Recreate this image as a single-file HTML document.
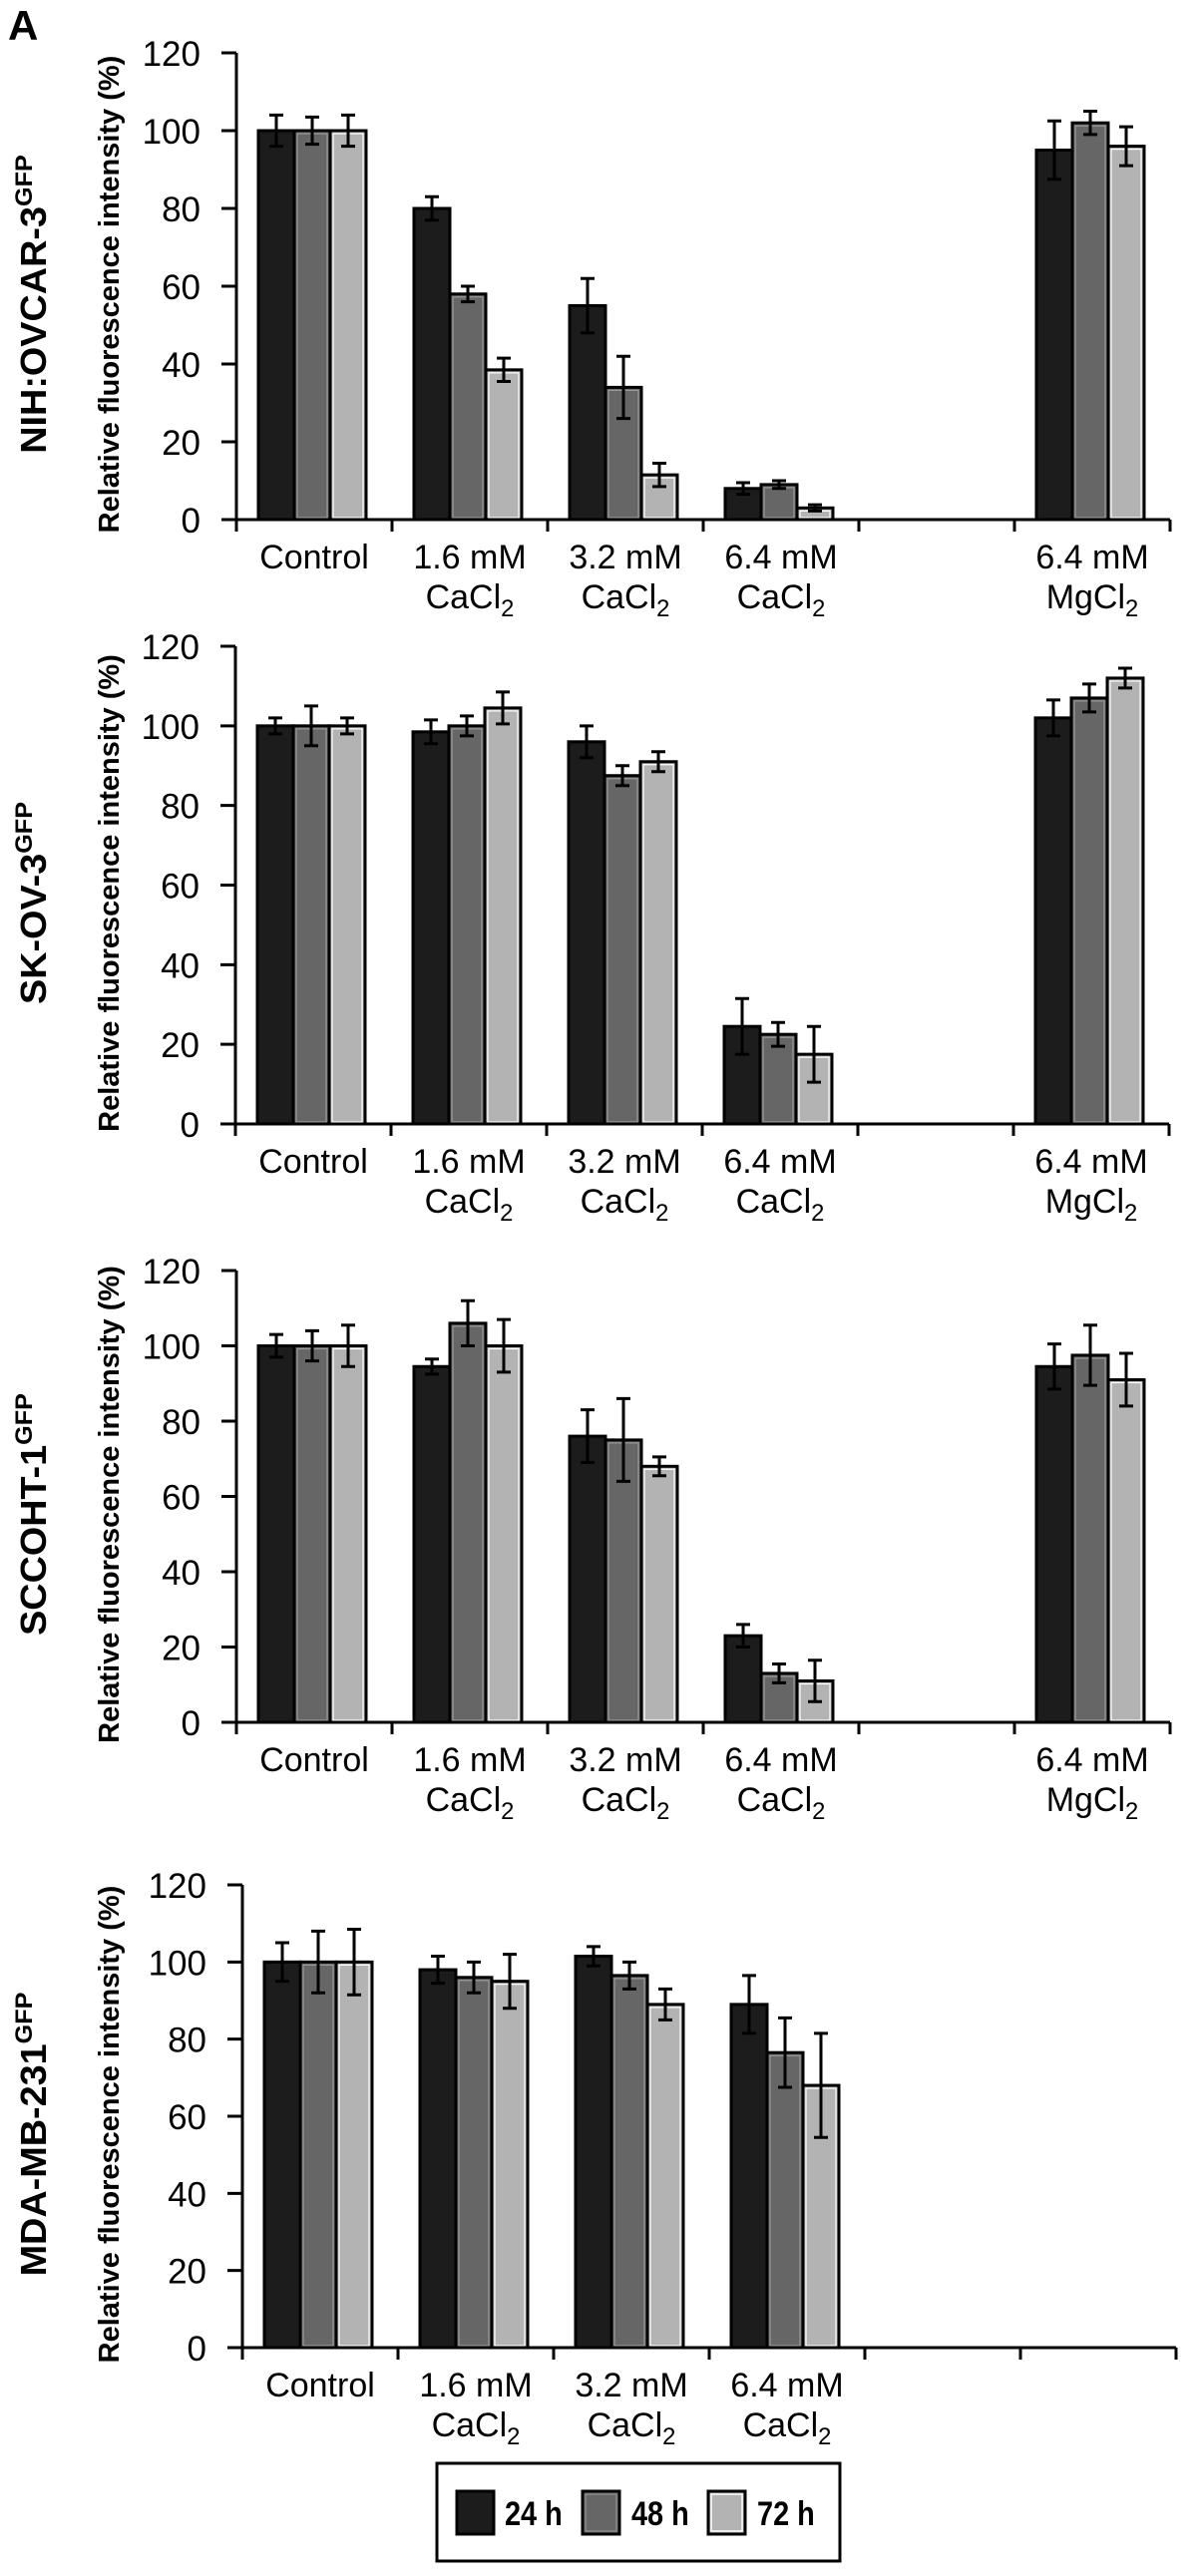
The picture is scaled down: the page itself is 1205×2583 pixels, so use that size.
<!DOCTYPE html>
<html><head><meta charset="utf-8"><style>
html,body{margin:0;padding:0;background:#fff;}
svg{display:block;}
text{font-family:"Liberation Sans",Arial,sans-serif;}
</style></head>
<body>
<svg id="fig" width="1205" height="2583" viewBox="0 0 1205 2583" xmlns="http://www.w3.org/2000/svg">
<text x="8" y="40" font-size="42" font-weight="bold">A</text>
<g id="legend">
<rect x="438" y="2470" width="404" height="98" fill="#fff" stroke="#000" stroke-width="3"/>
<rect x="458" y="2498" width="37" height="43" fill="#1c1c1c" stroke="#000" stroke-width="3"/>
<text x="506" y="2532" font-size="34" font-weight="bold" transform="translate(506 2532) scale(0.85 1) translate(-506 -2532)">24 h</text>
<rect x="584" y="2498" width="37" height="43" fill="#666" stroke="#000" stroke-width="3"/>
<rect x="587" y="2501" width="31" height="37" fill="none" stroke="#999" stroke-width="1"/>
<text x="633" y="2532" font-size="34" font-weight="bold" transform="translate(633 2532) scale(0.85 1) translate(-633 -2532)">48 h</text>
<rect x="710" y="2498" width="37" height="43" fill="#b3b3b3" stroke="#000" stroke-width="3"/>
<rect x="713" y="2501" width="31" height="37" fill="none" stroke="#fff" stroke-width="1.5"/>
<text x="759" y="2532" font-size="34" font-weight="bold" transform="translate(759 2532) scale(0.85 1) translate(-759 -2532)">72 h</text>
</g>
</svg>
<script>
// ---- data ----
const categories = ["Control", "1.6 mM|CaCl2", "3.2 mM|CaCl2", "6.4 mM|CaCl2", "", "6.4 mM|MgCl2"];
const seriesNames = ["24 h", "48 h", "72 h"];
const yTicks = [0, 20, 40, 60, 80, 100, 120];
const cellLines = ["NIH:OVCAR-3", "SK-OV-3", "SCCOHT-1", "MDA-MB-231"];
// NIH:OVCAR-3
const ovcar24 = [100, 80, 55, 8, null, 95];
const ovcar48 = [100, 58, 34, 9, null, 102];
const ovcar72 = [100, 38.5, 11.5, 3, null, 96];
const ovcarErr24 = [4, 3, 7, 1.5, null, 7.5];
const ovcarErr48 = [3.5, 2, 8, 1, null, 3];
const ovcarErr72 = [4, 3, 3, 0.8, null, 5];
// SK-OV-3
const skov24 = [100, 98.5, 96, 24.5, null, 102];
const skov48 = [100, 100, 87.5, 22.5, null, 107];
const skov72 = [100, 104.5, 91, 17.5, null, 112];
const skovErr24 = [2, 3, 4, 7, null, 4.5];
const skovErr48 = [5, 2.5, 2.5, 3, null, 3.5];
const skovErr72 = [2, 4, 2.5, 7, null, 2.5];
// SCCOHT-1
const sccoht24 = [100, 94.5, 76, 23, null, 94.5];
const sccoht48 = [100, 106, 75, 13, null, 97.5];
const sccoht72 = [100, 100, 68, 11, null, 91];
const sccohtErr24 = [3, 2, 7, 3, null, 6];
const sccohtErr48 = [4, 6, 11, 2.5, null, 8];
const sccohtErr72 = [5.5, 7, 2.5, 5.5, null, 7];
// MDA-MB-231
const mda24 = [100, 98, 101.5, 89, null, null];
const mda48 = [100, 96, 96.5, 76.5, null, null];
const mda72 = [100, 95, 89, 68, null, null];
const mdaErr24 = [5, 3.5, 2.5, 7.5, null, null];
const mdaErr48 = [8, 4, 3.5, 9, null, null];
const mdaErr72 = [8.5, 7, 4, 13.5, null, null];

const panelValues = [[ovcar24, ovcar48, ovcar72], [skov24, skov48, skov72], [sccoht24, sccoht48, sccoht72], [mda24, mda48, mda72]];
const panelErrors = [[ovcarErr24, ovcarErr48, ovcarErr72], [skovErr24, skovErr48, skovErr72], [sccohtErr24, sccohtErr48, sccohtErr72], [mdaErr24, mdaErr48, mdaErr72]];
const panelCategoryCount = [6, 6, 6, 6];

// ---- layout ----
const geom = [
  {ax: 237, yTop: 53, y0: 521},
  {ax: 236, yTop: 648, y0: 1127},
  {ax: 237, yTop: 1274, y0: 1727},
  {ax: 243, yTop: 1890, y0: 2354}
];
const catW = 156, barW = 36, barOff = 22;
const fills = ["#1c1c1c", "#666666", "#b3b3b3"];
const inner = [null, "#9a9a9a", "#ffffff"];
const NS = "http://www.w3.org/2000/svg";
const svg = document.getElementById("fig");
const legend = document.getElementById("legend");
function addText(parent, x, y, str, size, extra) {
  const t = document.createElementNS(NS, "text");
  t.setAttribute("x", x); t.setAttribute("y", y);
  t.setAttribute("font-size", size);
  for (const k in (extra || {})) t.setAttribute(k, extra[k]);
  const m = str.match(/^(.*Cl)2$/);
  if (m) {
    t.appendChild(document.createTextNode(m[1]));
    const s = document.createElementNS(NS, "tspan");
    s.setAttribute("font-size", size * 0.7);
    s.setAttribute("dy", 8);
    s.textContent = "2";
    t.appendChild(s);
  } else t.textContent = str;
  parent.appendChild(t);
  return t;
}

geom.forEach((g, p) => {
  const yScale = v => g.y0 - (v / 120) * (g.y0 - g.yTop);
  const xCat = i => g.ax + i * catW;
  const grp = document.createElementNS(NS, "g");
  
  
  svg.insertBefore(grp, legend);
  const nCat = panelCategoryCount[p];
  const xEnd = xCat(nCat);

  panelValues[p].forEach((series, s) => {
    series.forEach((v, i) => {
      if (v === null) return;
      const x = xCat(i) + barOff + s * barW;
      const y = yScale(v);
      const r = document.createElementNS(NS, "rect");
      
      
      r.setAttribute("x", x); r.setAttribute("y", y);
      r.setAttribute("width", barW); r.setAttribute("height", g.y0 - y);
      r.setAttribute("fill", fills[s]); r.setAttribute("stroke", "#000"); r.setAttribute("stroke-width", 3);
      grp.appendChild(r);
      if (inner[s]) {
        const ir = document.createElementNS(NS, "rect");
        
        
        ir.setAttribute("x", x + 3); ir.setAttribute("y", y + 3);
        ir.setAttribute("width", barW - 6); ir.setAttribute("height", Math.max(0, g.y0 - y - 5));
        ir.setAttribute("fill", "none"); ir.setAttribute("stroke", inner[s]); ir.setAttribute("stroke-width", 1.2);
        grp.appendChild(ir);
      }
      const e = panelErrors[p][s][i];
      const cx = x + barW / 2;
      const eb = document.createElementNS(NS, "path");
      
      
      const yt = yScale(v + e), yb = yScale(v - e);
      eb.setAttribute("d", `M${cx} ${yt}V${yb}M${cx - 7} ${yt}H${cx + 7}M${cx - 7} ${yb}H${cx + 7}`);
      eb.setAttribute("stroke", "#000"); eb.setAttribute("stroke-width", 3); eb.setAttribute("fill", "none");
      grp.appendChild(eb);
    });
  });

  const ya = document.createElementNS(NS, "path");
  
  
  let d = `M${g.ax} ${g.y0}V${yScale(120)}`;
  yTicks.forEach(t => { d += `M${g.ax - 15} ${yScale(t)}H${g.ax}`; });
  ya.setAttribute("d", d); ya.setAttribute("stroke", "#000"); ya.setAttribute("stroke-width", 3); ya.setAttribute("fill", "none");
  grp.appendChild(ya);
  yTicks.forEach(t => {
    const tl = addText(grp, g.ax - 36, yScale(t) + 13, String(t), 35, {"text-anchor": "end"});
    
    
  });

  const xa = document.createElementNS(NS, "path");
  
  
  let dx = `M${g.ax - 15} ${g.y0}H${xEnd}`;
  for (let i = 0; i <= nCat; i++) dx += `M${xCat(i)} ${g.y0}V${g.y0 + 12}`;
  xa.setAttribute("d", dx); xa.setAttribute("stroke", "#000"); xa.setAttribute("stroke-width", 3); xa.setAttribute("fill", "none");
  grp.appendChild(xa);
  categories.forEach((c, i) => {
    if (!c) return;
    if (p === 3 && i === 5) return;
    c.split("|").forEach((line, li) => {
      const tl = addText(grp, xCat(i) + catW / 2, g.y0 + 49 + li * 40, line, 34, {"text-anchor": "middle"});
      
      
    });
  });

  const cy = (g.y0 + g.yTop) / 2 + 8;
  const yt = document.createElementNS(NS, "text");
  
  
  yt.setAttribute("transform", `translate(119 ${cy}) rotate(-90)`);
  yt.setAttribute("text-anchor", "middle"); yt.setAttribute("font-size", 29); yt.setAttribute("font-weight", "bold");
  yt.textContent = "Relative fluorescence intensity (%)";
  grp.appendChild(yt);

  const cl = document.createElementNS(NS, "text");
  
  
  cl.setAttribute("transform", `translate(46 ${cy + 10}) rotate(-90) scale(1.05 1)`);
  cl.setAttribute("text-anchor", "middle"); cl.setAttribute("font-size", 36); cl.setAttribute("font-weight", "bold");
  cl.appendChild(document.createTextNode(cellLines[p]));
  const sup = document.createElementNS(NS, "tspan");
  sup.setAttribute("font-size", 24); sup.setAttribute("dy", -14);
  sup.textContent = "GFP";
  cl.appendChild(sup);
  grp.appendChild(cl);
});
</script>
</body></html>
